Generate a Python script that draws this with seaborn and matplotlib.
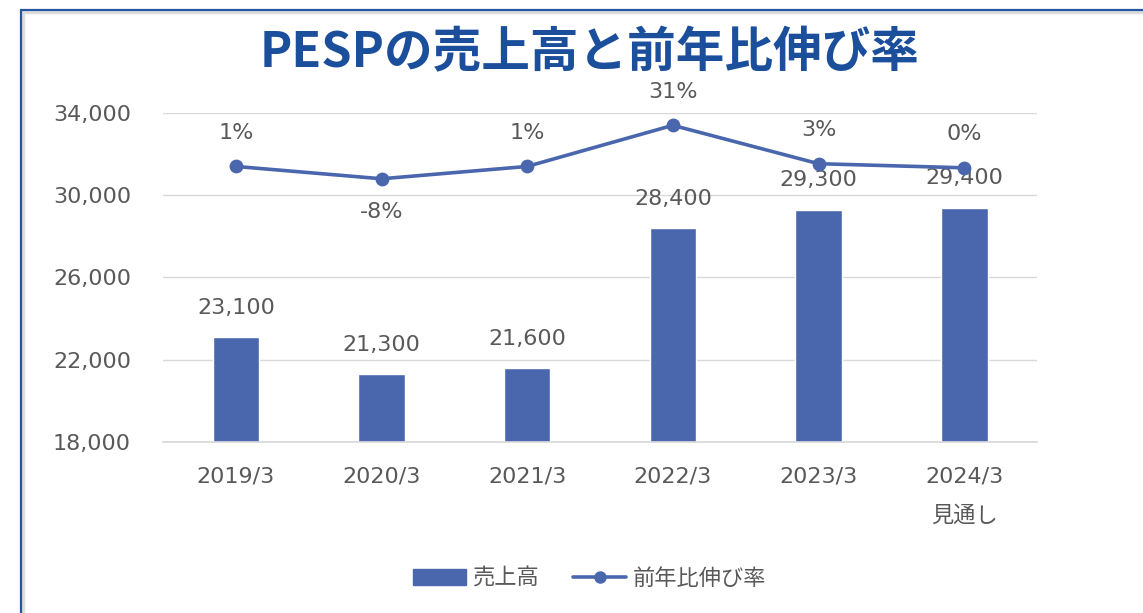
import matplotlib
matplotlib.use("Agg")
import matplotlib.pyplot as plt
import matplotlib.patches as mpatches
from matplotlib.lines import Line2D
import seaborn as sns
import pandas as pd

# Data
years = ["2019/3", "2020/3", "2021/3", "2022/3", "2023/3", "2024/3\n見通し"]
sales = [23100, 21300, 21600, 28400, 29300, 29400]
growth = [1, -8, 1, 31, 3, 0]
sales_ticks = [18000, 22000, 26000, 30000, 34000]

bar_color = "#4A67AE"
text_color = "#595959"
title_color = "#1B4F9C"

sns.set_theme(style="white")
plt.rcParams["font.family"] = ["DejaVu Sans", "Noto Sans CJK JP"]

df = pd.DataFrame({"year": years, "sales": sales, "growth": growth})

fig = plt.figure(figsize=(11.43, 6.13), dpi=100)

# outer frame (left/top visible, right/bottom cropped off)
shadow = mpatches.Rectangle((0.020, -0.05), 1.2, 1.031, transform=fig.transFigure,
                            fill=False, edgecolor="#DDDDDD", linewidth=2.5, zorder=0)
frame = mpatches.Rectangle((0.018, -0.05), 1.2, 1.034, transform=fig.transFigure,
                           fill=False, edgecolor="#2556A0", linewidth=1.6, zorder=1)
fig.patches.extend([shadow, frame])

ax = fig.add_axes([0.1426, 0.279, 0.7647, 0.5367])
sns.barplot(data=df, x="year", y="sales", color=bar_color, width=0.32,
            saturation=1, ax=ax)
ax.set_ylim(18000, 34000)
ax.set_yticks(sales_ticks)
ax.set_yticklabels([f"{v:,}" for v in sales_ticks])
ax.set_xlim(-0.5, len(years) - 0.5)
ax.yaxis.grid(True, color="#D9D9D9", linewidth=1)
ax.set_axisbelow(True)
for s in ["top", "right", "left"]:
    ax.spines[s].set_visible(False)
ax.spines["bottom"].set_color("#D9D9D9")
ax.set_xlabel("")
ax.set_ylabel("")
ax.tick_params(axis="both", length=0, labelsize=16, labelcolor=text_color)
ax.tick_params(axis="x", pad=18)
ax.tick_params(axis="y", pad=23)
for lbl in ax.get_xticklabels():
    lbl.set_linespacing(2.1)
    lbl.set_verticalalignment("top")

for i, v in enumerate(sales):
    ax.annotate(f"{v:,}", (i, v), xytext=(0, 21), textcoords="offset points",
                ha="center", va="center", fontsize=16, color=text_color)

ax2 = ax.twinx()
sns.pointplot(data=df, x="year", y="growth", color=bar_color, markers="o",
              linestyles="-", ax=ax2, markersize=8, linewidth=2.6)
ax2.set_ylim(-200, 40)
ax2.set_xlim(-0.5, len(years) - 0.5)
ax2.axis("off")

for i, g in enumerate(growth):
    dy = -24 if g < 0 else 24
    ax2.annotate(f"{g}%", (i, g), xytext=(0, dy), textcoords="offset points",
                 ha="center", va="center", fontsize=16, color=text_color)

fig.text(0.516, 0.914, "PESPの売上高と前年比伸び率", ha="center", va="center",
         fontsize=35, fontweight="bold", color=title_color,
         family=["Noto Sans CJK JP", "DejaVu Sans"])

handles = [mpatches.Patch(color=bar_color, label="売上高"),
           Line2D([0], [0], color=bar_color, linewidth=2.6, marker="o",
                  markersize=8, label="前年比伸び率")]
fig.legend(handles=handles, loc="center", bbox_to_anchor=(0.516, 0.057), ncol=2,
           frameon=False, labelcolor=text_color, handlelength=2.4,
           columnspacing=1.5, handletextpad=0.3,
           prop={"family": ["Noto Sans CJK JP", "DejaVu Sans"], "size": 16})

fig.savefig("out.png", dpi=100)
